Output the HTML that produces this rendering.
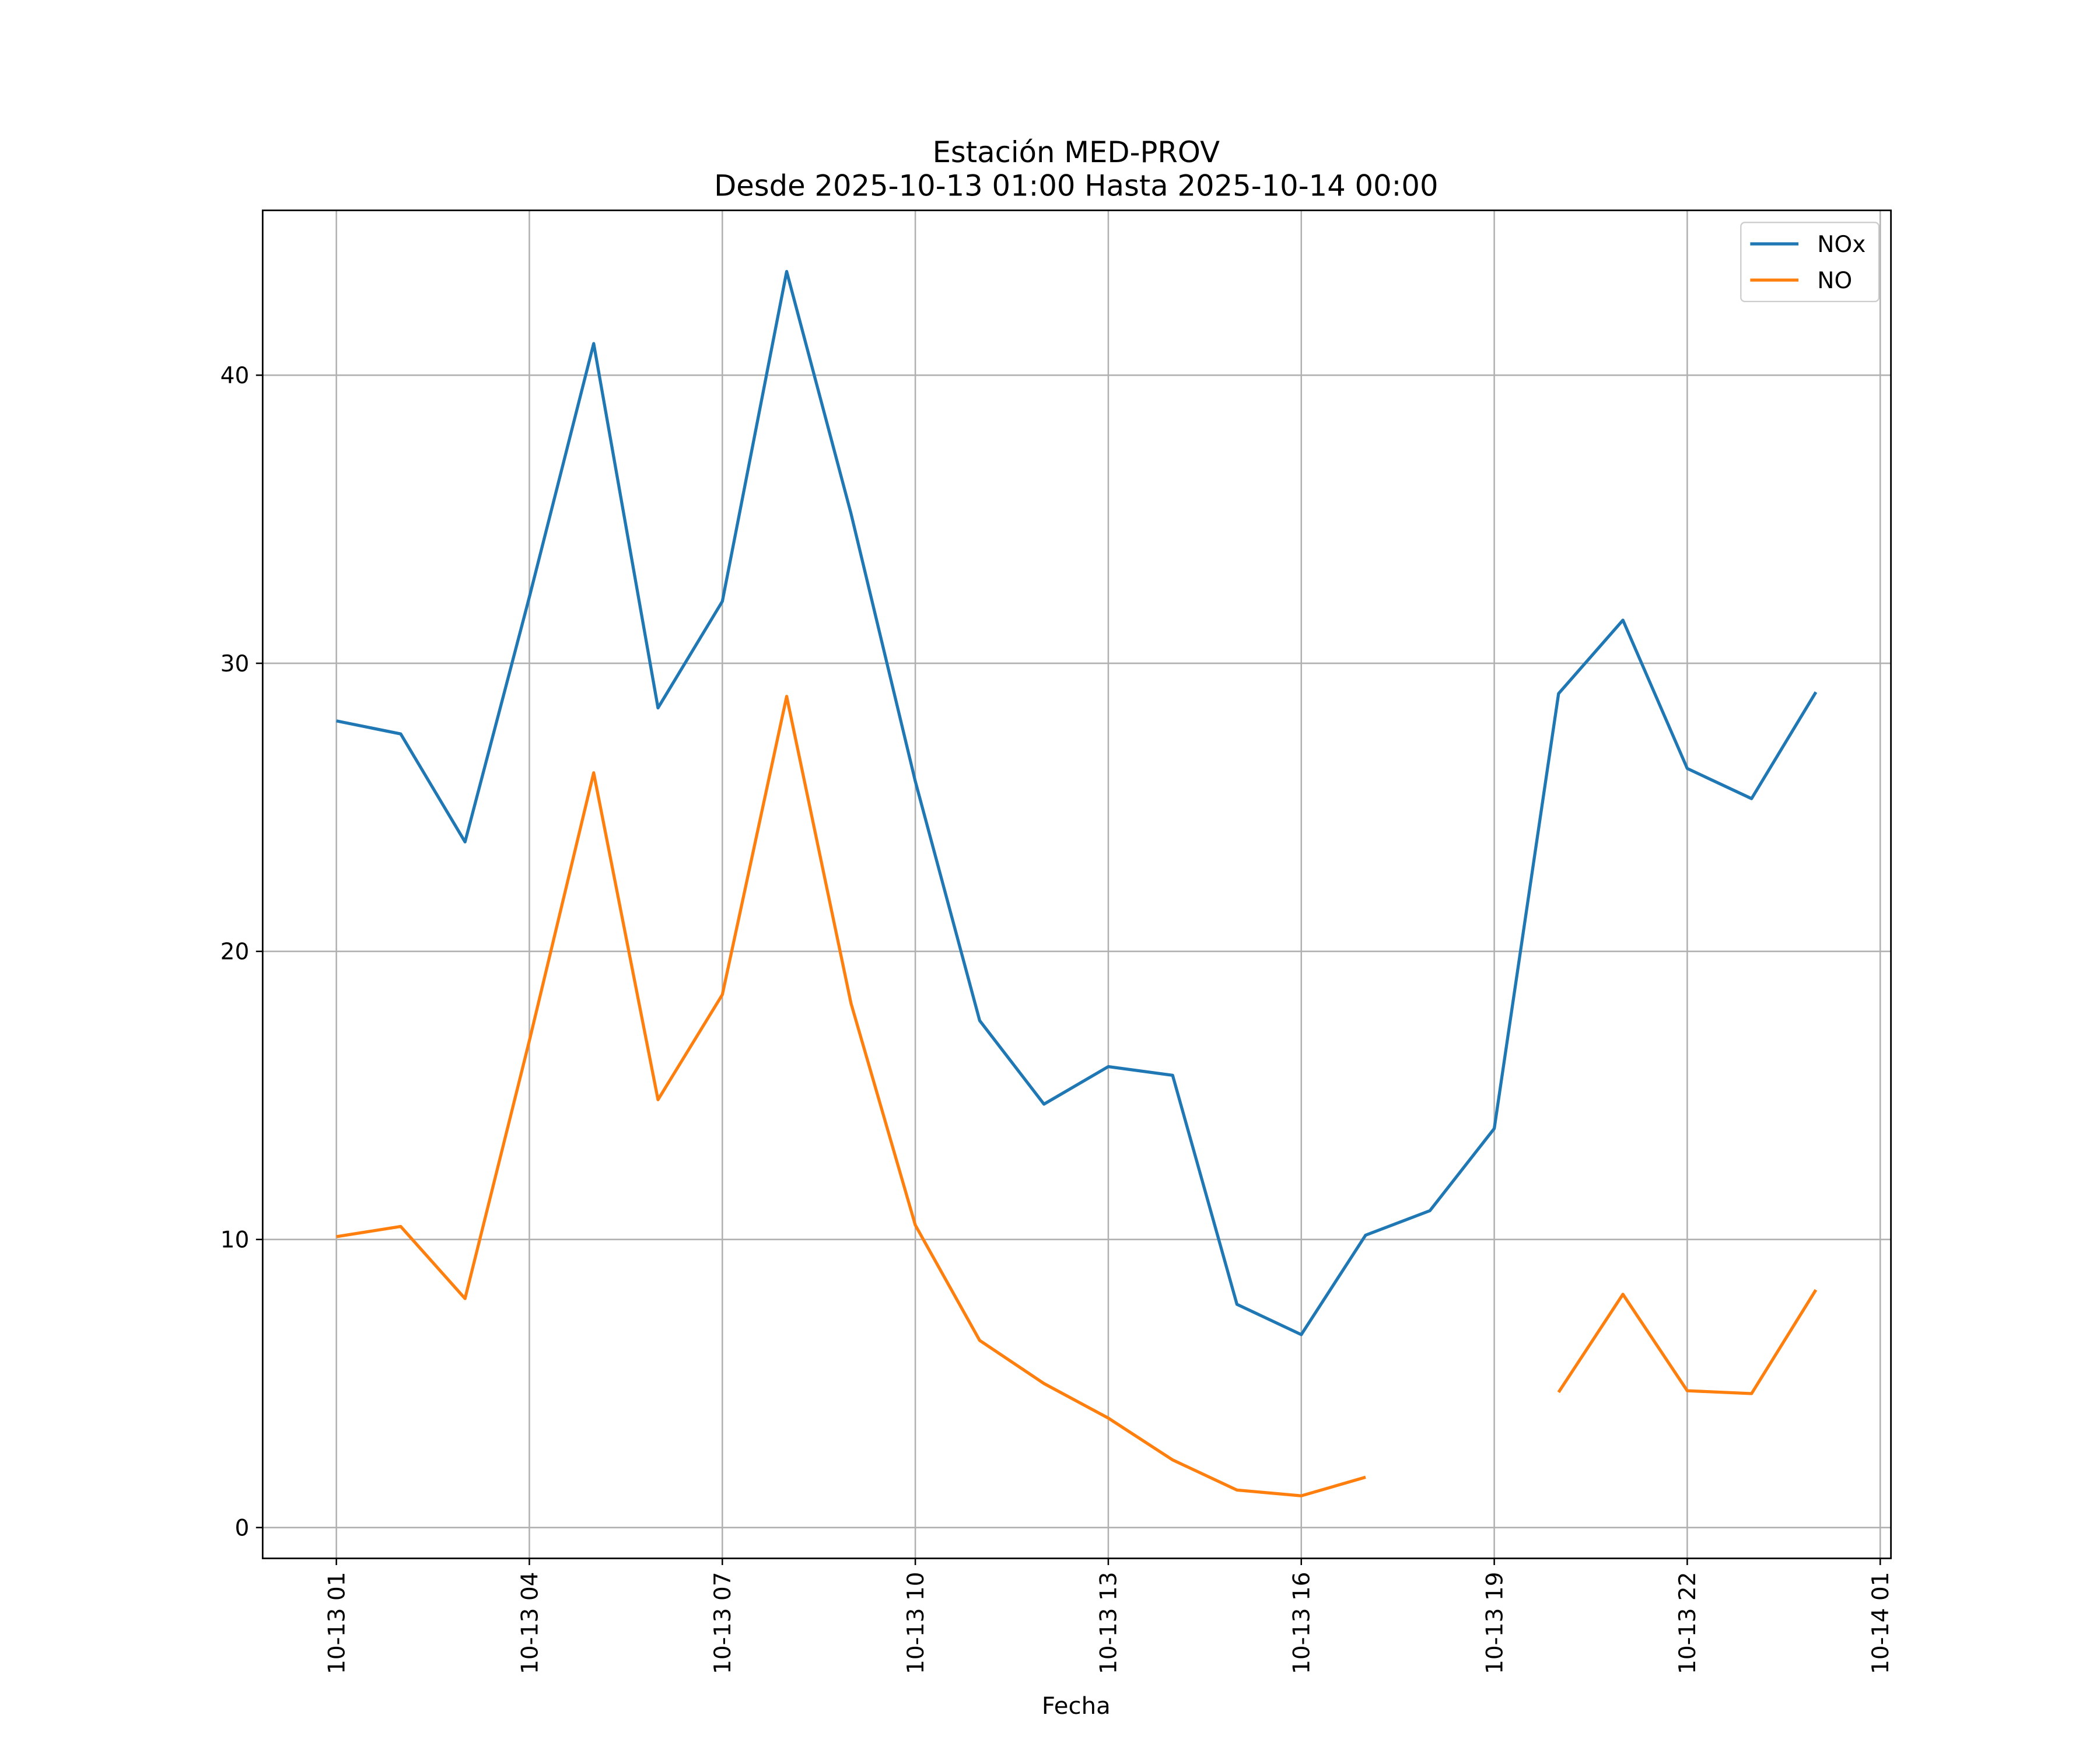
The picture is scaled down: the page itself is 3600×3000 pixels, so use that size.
<!DOCTYPE html>
<html><head><meta charset="utf-8"><style>
html,body{margin:0;padding:0;background:#fff}
svg{display:block}
text{font-family:"DejaVu Sans","Liberation Sans",sans-serif;fill:#000}
</style></head><body>
<svg id="chart" width="3600" height="3000" viewBox="0 0 1567 1306" preserveAspectRatio="none" xmlns="http://www.w3.org/2000/svg">
<text x="803" y="121" font-size="21.6" text-anchor="middle">Estación MED-PROV</text>
<text x="803" y="146" font-size="21.6" text-anchor="middle">Desde 2025-10-13 01:00 Hasta 2025-10-14 00:00</text>
<g id="grid"></g>
<g id="series"></g>
<rect x="196" y="157" width="1215" height="1006" fill="none" stroke="#000" stroke-width="1.2"/>
<g id="ticks"></g>
<text x="803" y="1279" font-size="17.5" text-anchor="middle">Fecha</text>
<g>
<rect x="1299" y="166" width="103" height="59" rx="3" fill="#fff" stroke="#ccc" stroke-width="1"/>
<line x1="1306" y1="182" x2="1342" y2="182" stroke="#1f77b4" stroke-width="2.3"/>
<text x="1356" y="188" font-size="17">NOx</text>
<line x1="1306" y1="209" x2="1342" y2="209" stroke="#ff7f0e" stroke-width="2.3"/>
<text x="1356" y="215" font-size="17">NO</text>
</g>
</svg>
<script>
const hours = [1,2,3,4,5,6,7,8,9,10,11,12,13,14,15,16,17,18,19,20,21,22,23,24];
const noxValues = [28.0,27.55,23.8,32.3,41.1,28.45,32.15,43.6,35.2,25.9,17.6,14.7,16.0,15.7,7.75,6.7,10.15,11.0,13.85,28.95,31.5,26.35,25.3,29.0];
const noValues = [10.1,10.45,7.95,16.9,26.2,14.85,18.5,28.85,18.2,10.5,6.5,5.0,3.8,2.35,1.3,1.1,1.75,null,null,4.7,8.1,4.75,4.65,8.25];
const yTicks = [0,10,20,30,40];
const xTickHours = [1,4,7,10,13,16,19,22,25];
const xTickLabels = ["10-13 01","10-13 04","10-13 07","10-13 10","10-13 13","10-13 16","10-13 19","10-13 22","10-14 01"];

const NS="http://www.w3.org/2000/svg";
const xs = h => 251 + (h-1)*(1403-251)/24;
const ys = v => 1140 - v*21.5;
const grid=document.getElementById('grid'), ticks=document.getElementById('ticks'), series=document.getElementById('series');
function mk(tag,attrs,parent){const e=document.createElementNS(NS,tag);for(const k in attrs)e.setAttribute(k,attrs[k]);parent.appendChild(e);return e;}

yTicks.forEach(v=>{
  const y=ys(v);
  const g=mk('line',{x1:196,x2:1411,y1:y,y2:y,stroke:'#b0b0b0','stroke-width':1.1},grid);
  
  
  mk('line',{x1:191,x2:196,y1:y,y2:y,stroke:'#000','stroke-width':1.1},ticks);
  const t=mk('text',{x:186,y:y+6,'font-size':17,'text-anchor':'end'},ticks);
  t.textContent=v;
  
  
});
xTickHours.forEach((h,i)=>{
  const x=xs(h);
  const g=mk('line',{x1:x,x2:x,y1:157,y2:1163,stroke:'#b0b0b0','stroke-width':1.1},grid);
  
  
  mk('line',{x1:x,x2:x,y1:1163,y2:1168,stroke:'#000','stroke-width':1.1},ticks);
  const t=mk('text',{x:0,y:0,'font-size':17,'text-anchor':'end',transform:`translate(${x+6},1173) rotate(-90)`},ticks);
  t.textContent=xTickLabels[i];
  
  
});
function draw(vals,color,name){
  let segs=[],cur=[];
  vals.forEach((v,i)=>{ if(v===null){ if(cur.length)segs.push(cur); cur=[]; } else cur.push(xs(hours[i]).toFixed(1)+','+ys(v).toFixed(1)); });
  if(cur.length)segs.push(cur);
  segs.forEach(s=>{
    const p=mk('polyline',{points:s.join(' '),fill:'none',stroke:color,'stroke-width':2.3,'stroke-linejoin':'round'},series);
    
    
  });
}
draw(noxValues,'#1f77b4','nox-line');
draw(noValues,'#ff7f0e','no-line');
</script>
</body></html>
